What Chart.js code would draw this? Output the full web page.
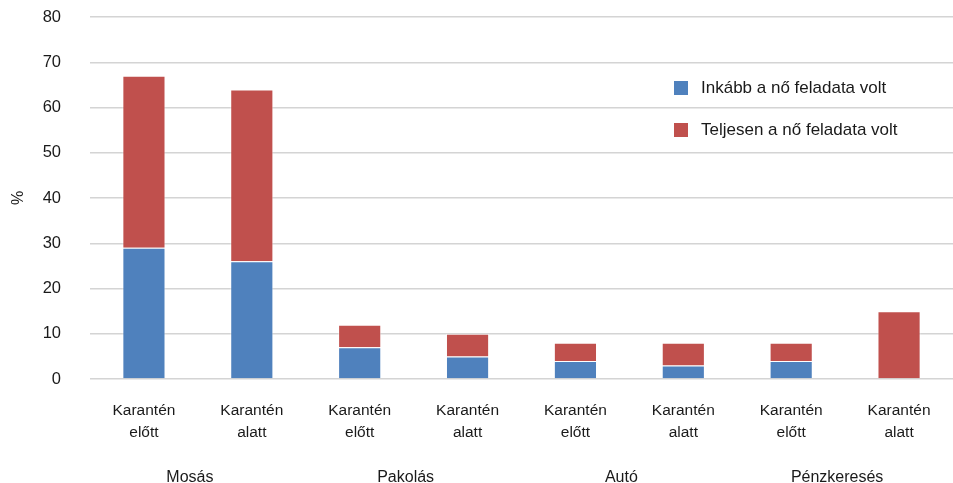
<!DOCTYPE html>
<html>
<head>
<meta charset="utf-8">
<script src="https://cdn.jsdelivr.net/npm/chart.js@4"></script>
<style>
  html, body { margin: 0; padding: 0; background: #fff; }
  #wrap { width: 953px; height: 483px; }
</style>
</head>
<body>
<div id="wrap"><canvas id="chart"></canvas></div>
<script>
// Categories and values
const barLabels = [
    ['Karantén', 'előtt'], ['Karantén', 'alatt'],
    ['Karantén', 'előtt'], ['Karantén', 'alatt'],
    ['Karantén', 'előtt'], ['Karantén', 'alatt'],
    ['Karantén', 'előtt'], ['Karantén', 'alatt']
];
const groupLabels = ['Mosás', 'Pakolás', 'Autó', 'Pénzkeresés'];
const inkabbValues = [29, 26, 7, 5, 4, 3, 4, 0];
const teljesenValues = [38, 38, 5, 5, 4, 5, 4, 15];
const yTicks = [0, 10, 20, 30, 40, 50, 60, 70, 80];

const FONT = "'Liberation Sans', 'DejaVu Sans', sans-serif";

// legend drawn inside the plot area, to the right
const insideLegend = {
    id: 'insideLegend',
    afterDraw(chart) {
        const ctx = chart.ctx;
        const area = chart.chartArea;
        const x = area.left + 584;
        const rows = [area.top + 71, area.top + 113];
        ctx.save();
        ctx.font = '17px ' + FONT;
        ctx.textBaseline = 'middle';
        chart.data.datasets.forEach((ds, i) => {
            ctx.fillStyle = ds.backgroundColor;
            ctx.fillRect(x, rows[i] - 7, 14, 14);
            ctx.fillStyle = '#1a1a1a';
            ctx.fillText(ds.label, x + 27, rows[i]);
        });
        ctx.restore();
    }
};

new Chart(document.getElementById('chart'), {
    type: 'bar',
    data: {
        labels: barLabels,
        datasets: [
            {
                label: 'Inkább a nő feladata volt',
                data: inkabbValues,
                backgroundColor: '#4F81BD',
                borderColor: 'rgba(255,255,255,0.5)',
                borderWidth: 1,
                categoryPercentage: 1,
                barPercentage: 0.4
            },
            {
                label: 'Teljesen a nő feladata volt',
                data: teljesenValues,
                backgroundColor: '#C0504D',
                borderColor: 'rgba(255,255,255,0.5)',
                borderWidth: 1,
                categoryPercentage: 1,
                barPercentage: 0.4
            }
        ]
    },
    options: {
        responsive: true,
        maintainAspectRatio: false,
        animation: false,
        layout: { padding: 0 },
        plugins: {
            legend: { display: false },
            tooltip: { enabled: false }
        },
        scales: {
            x: {
                stacked: true,
                grid: { display: false },
                border: { display: false },
                ticks: {
                    color: '#1a1a1a',
                    font: { family: FONT, size: 15.5, lineHeight: 1.42 },
                    maxRotation: 0,
                    autoSkip: false,
                    padding: 13
                },
                afterFit: (scale) => { scale.height = 81; }
            },
            x2: {
                type: 'category',
                labels: groupLabels,
                position: 'bottom',
                offset: true,
                grid: { display: false },
                border: { display: false },
                ticks: {
                    color: '#1a1a1a',
                    font: { family: FONT, size: 16 },
                    maxRotation: 0,
                    autoSkip: false,
                    labelOffset: -8,
                    padding: 0
                },
                afterFit: (scale) => { scale.height = 23; }
            },
            y: {
                stacked: true,
                min: 0,
                max: 80,
                afterBuildTicks: (scale) => { scale.ticks = yTicks.map(v => ({ value: v })); },
                grid: { color: '#d4d4d4', lineWidth: 1.5, drawTicks: false },
                border: { display: false },
                ticks: {
                    color: '#1a1a1a',
                    font: { family: FONT, size: 16.5 },
                    padding: 29
                },
                title: {
                    display: true,
                    text: '%',
                    color: '#1a1a1a',
                    font: { family: FONT, size: 16 },
                    padding: { top: 9, bottom: 0 }
                },
                afterFit: (scale) => {
                    scale.width = 90;
                    scale.paddingTop = 17;
                    scale.paddingBottom = 10;
                }
            }
        }
    },
    plugins: [insideLegend]
});
</script>
</body>
</html>
